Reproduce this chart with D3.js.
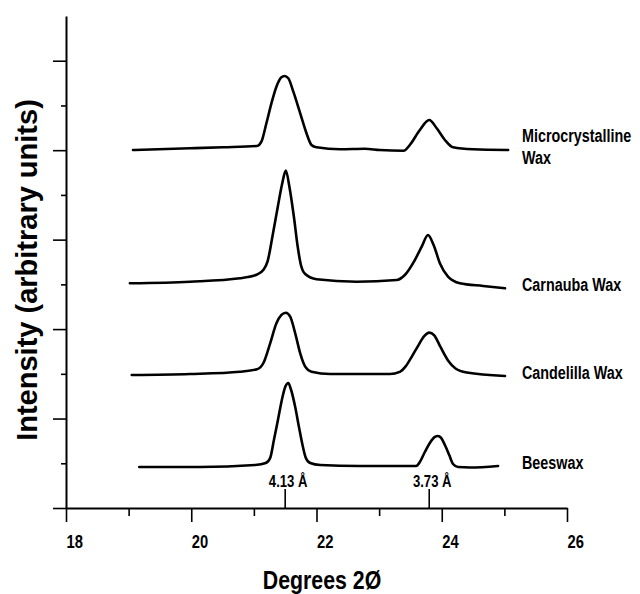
<!DOCTYPE html>
<html>
<head>
<meta charset="utf-8">
<script src="https://cdn.jsdelivr.net/npm/d3@7"></script>
<style>
  body { margin: 0; background: #fff; }
  svg text { font-family: 'Liberation Sans', Arial, sans-serif; font-weight: bold; fill: #000; }
</style>
</head>
<body>
<div id="chart"></div>
<script>
// X-ray diffraction traces, [2theta, intensity]
const beeswax = [
  [19.17, 0.458], [20.14, 0.458], [21.02, 0.481], [21.19, 0.503], [21.26, 0.559],
  [21.32, 0.760], [21.39, 1.006], [21.45, 1.219], [21.50, 1.353], [21.55, 1.397],
  [21.59, 1.330], [21.66, 1.129], [21.72, 0.905], [21.78, 0.693], [21.83, 0.559],
  [21.90, 0.503], [22.06, 0.481], [22.69, 0.470], [23.33, 0.470], [23.59, 0.470],
  [23.65, 0.514], [23.73, 0.626], [23.81, 0.727], [23.89, 0.794], [23.94, 0.805],
  [23.99, 0.783], [24.05, 0.704], [24.12, 0.592], [24.18, 0.492], [24.26, 0.458],
  [24.45, 0.453], [24.90, 0.470]
];
const candelilla = [
  [19.05, 1.487], [19.98, 1.498], [20.78, 1.524], [21.05, 1.551], [21.15, 1.618],
  [21.26, 1.841], [21.36, 2.065], [21.44, 2.158], [21.51, 2.183], [21.58, 2.139],
  [21.66, 1.953], [21.74, 1.729], [21.82, 1.580], [21.92, 1.524], [22.22, 1.498],
  [23.17, 1.498], [23.33, 1.522], [23.42, 1.580], [23.52, 1.690], [23.62, 1.810],
  [23.72, 1.920], [23.80, 1.960], [23.88, 1.930], [23.98, 1.800], [24.10, 1.650],
  [24.22, 1.560], [24.40, 1.515], [25.01, 1.476]
];
const carnauba = [
  [19.02, 2.512], [19.98, 2.530], [20.78, 2.568], [21.05, 2.610], [21.15, 2.660],
  [21.22, 2.760], [21.30, 3.050], [21.38, 3.360], [21.45, 3.620], [21.51, 3.771],
  [21.57, 3.580], [21.64, 3.250], [21.70, 2.920], [21.75, 2.720], [21.82, 2.615],
  [22.00, 2.557], [22.64, 2.530], [23.28, 2.549], [23.41, 2.605], [23.57, 2.772],
  [23.68, 2.921], [23.78, 3.052], [23.87, 2.940], [23.97, 2.736], [24.10, 2.586],
  [24.29, 2.512], [24.66, 2.482], [25.01, 2.456]
];
const microcrystalline = [
  [19.07, 4.002], [19.98, 4.021], [20.51, 4.032], [21.05, 4.047], [21.12, 4.095],
  [21.20, 4.301], [21.28, 4.524], [21.36, 4.710], [21.44, 4.815], [21.49, 4.829],
  [21.55, 4.804], [21.63, 4.654], [21.74, 4.412], [21.84, 4.189], [21.92, 4.058],
  [22.00, 4.032], [22.38, 4.010], [22.77, 4.016], [23.01, 4.002], [23.39, 3.994],
  [23.49, 4.058], [23.65, 4.226], [23.80, 4.337], [23.92, 4.245], [24.05, 4.114],
  [24.18, 4.032], [24.50, 4.010], [25.06, 4.002]
];
const seriesLabels = [["Beeswax"], ["Candelilla Wax"], ["Carnauba Wax"], ["Microcrystalline", "Wax"]];
const series = [beeswax, candelilla, carnauba, microcrystalline];

const markerLabels = ["4.13 \u00C5", "3.73 \u00C5"];
const markerPositions = [21.5, 23.8];

const xMajorTicks = [18, 20, 22, 24, 26];
const xMinorTicks = [19, 21, 23, 25];
const yMajorTicks = [0, 1, 2, 3, 4, 5];
const yMinorTicks = [0.5, 1.5, 2.5, 3.5, 4.5];

(function () {
  const width = 640;
  const height = 594;
  const narrow = "scale(0.82, 1)"; // condensed look of the original lettering

  const x = d3.scaleLinear().domain([18, 26]).range([66, 567]);
  const y = d3.scaleLinear().domain([0, 5.5]).range([508, 16]);

  const svg = d3.select("#chart")
    .append("svg")
    .attr("width", width)
    .attr("height", height);

  // x axis, ticks pointing down
  const xAxis = svg.append("g")
    .attr("transform", `translate(0, ${y(0)})`)
    .call(d3.axisBottom(x).tickValues(xMajorTicks).tickSize(14).tickSizeOuter(0).tickFormat(d3.format("d")));
  svg.append("g")
    .attr("transform", `translate(0, ${y(0)})`)
    .call(d3.axisBottom(x).tickValues(xMinorTicks).tickSize(8).tickSizeOuter(0).tickFormat(""))
    .select(".domain").remove();

  xAxis.selectAll(".tick text")
    .attr("text-anchor", "start")
    .attr("x", 0)
    .attr("y", 40)
    .attr("dy", 0)
    .attr("transform", narrow)
    .attr("font-size", "18px");

  // y axis, no labels
  svg.append("g")
    .attr("transform", `translate(${x(18)}, 0)`)
    .call(d3.axisLeft(y).tickValues(yMajorTicks).tickSize(13).tickSizeOuter(0).tickFormat(""));
  svg.append("g")
    .attr("transform", `translate(${x(18)}, 0)`)
    .call(d3.axisLeft(y).tickValues(yMinorTicks).tickSize(5).tickSizeOuter(0).tickFormat(""))
    .select(".domain").remove();

  svg.selectAll(".domain").attr("stroke", "#000").attr("stroke-width", 2);
  svg.selectAll(".tick line").attr("stroke", "#000").attr("stroke-width", 1.6);

  // diffraction traces
  const line = d3.line()
    .x(d => x(d[0]))
    .y(d => y(d[1]))
    .curve(d3.curveMonotoneX);

  svg.append("g")
    .selectAll("path")
    .data(series)
    .enter()
    .append("path")
    .attr("d", line)
    .attr("fill", "none")
    .attr("stroke", "#000")
    .attr("stroke-width", 2.6)
    .attr("stroke-linejoin", "round")
    .attr("stroke-linecap", "round");

  // trace labels
  const labels = svg.append("g")
    .selectAll("text")
    .data(series)
    .enter()
    .append("text")
    .attr("transform", d => `translate(522, ${y(d[d.length - 1][1]) - 3}) ${narrow}`)
    .attr("font-size", "17.5px");

  labels.each(function (d, i) {
    const lines = seriesLabels[i];
    d3.select(this).selectAll("tspan")
      .data(lines)
      .enter()
      .append("tspan")
      .attr("x", 0)
      .attr("dy", (t, j) => j === 0 ? `${0.35 - (lines.length - 1) * 0.65}em` : "1.3em")
      .text(t => t);
  });

  // d-spacing markers
  markerPositions.forEach(function (p, i) {
    svg.append("line")
      .attr("x1", x(p))
      .attr("x2", x(p))
      .attr("y1", y(0) - 19)
      .attr("y2", y(0))
      .attr("stroke", "#000")
      .attr("stroke-width", 1.6);
    svg.append("text")
      .attr("transform", `translate(${x(p) + 3}, ${y(0) - 21}) ${narrow}`)
      .attr("text-anchor", "middle")
      .attr("font-size", "16px")
      .text(markerLabels[i]);
  });

  // axis titles
  svg.append("text")
    .attr("transform", `translate(322, 589) ${narrow}`)
    .attr("text-anchor", "middle")
    .attr("font-size", "26px")
    .text("Degrees 2\u00D8");

  svg.append("text")
    .attr("transform", "translate(37, 270) rotate(-90)")
    .attr("text-anchor", "middle")
    .attr("font-size", "29px")
    .text("Intensity (arbitrary units)");
})();
</script>
</body>
</html>
